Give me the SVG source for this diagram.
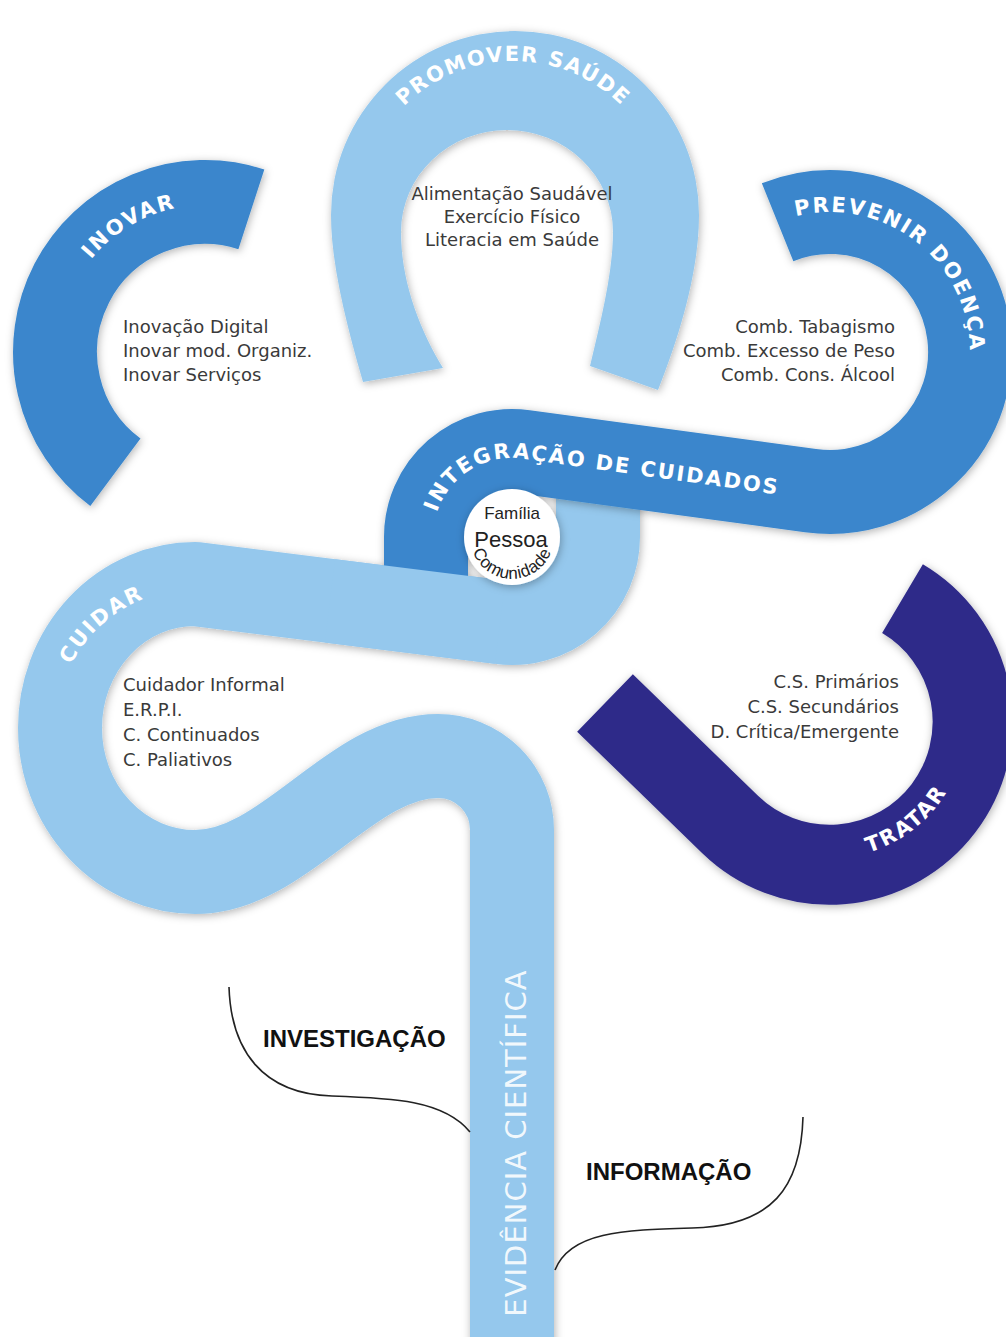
<svg xmlns="http://www.w3.org/2000/svg" width="1006" height="1337" viewBox="0 0 1006 1337">
<defs>
<style>
.band{fill:none;stroke-linecap:butt;stroke-linejoin:round;stroke-width:84}
.light{stroke:#95c8ed}
.mid{stroke:#3a86cc}
.indigo{stroke:#2f2b89}
.lbl{font-family:"DejaVu Sans",sans-serif;font-weight:bold;font-size:21px;letter-spacing:2px;fill:#fff}
.list{font-family:"DejaVu Sans",sans-serif;font-size:18px;fill:#3a3a3a}
.key{font-family:"Liberation Sans",Arial,sans-serif;font-weight:bold;font-size:24px;fill:#111}
.core{font-family:"Liberation Sans",Arial,sans-serif;fill:#222}
.conn{fill:none;stroke:#222;stroke-width:1.6}
</style>
<filter id="ds" filterUnits="userSpaceOnUse" x="0" y="0" width="1006" height="1337">
<feDropShadow dx="1" dy="2" stdDeviation="4" flood-color="#000" flood-opacity="0.3"/>
</filter>
<path id="tp-promover" d="M 359 215 A 154 154 0 0 1 667 215"/>
<path id="tp-inovar" d="M 67.8 404.7 A 147 147 0 0 1 315.9 255.6"/>
<path id="tp-prevenir" d="M 736.3 248 A 140 140 0 0 1 953.6 417.7"/>
<path id="tp-integracao" d="M 436.9 512.6 A 79 79 0 0 1 523 458.8 L 820 500.5"/>
<path id="tp-cuidar" d="M 77.1 801.7 A 139 139 0 0 1 280.6 618.5"/>
<path id="tp-tratar" d="M 801.7 855 A 136 136 0 0 0 965.9 726.7"/>
<path id="tp-comunidade" d="M 470.6 529.7 A 42 42 0 1 0 553.4 529.7"/>
</defs>
<rect width="1006" height="1337" fill="#fff"/>

<g id="cuidar-evidencia-band">
<path class="band light" filter="url(#ds)" d="M 512 1345 L 512 830 A 74 74 0 0 0 438 756 C 350 756 285 872 195 872 A 135 144 0 0 1 195 584 L 500 622.2 A 86 86 0 0 0 598 537 L 598 490"/>
</g>

<g id="promover">
<path fill="#95c8ed" filter="url(#ds)" d="M 363 382 C 345 320 331 262 331 215 A 184 184 0 0 1 699 215 C 699 268 682 330 658 390 L 590 366 C 601 320 613 272 613 232 A 106 102 0 0 0 401 232 C 401 282 420 330 443 368 Z"/>
<text class="lbl" style="letter-spacing:1.5px"><textPath href="#tp-promover" startOffset="50%" text-anchor="middle">PROMOVER SAÚDE</textPath></text>
<text class="list" text-anchor="middle" x="512" y="200">Alimentação Saudável</text>
<text class="list" text-anchor="middle" x="512" y="223">Exercício Físico</text>
<text class="list" text-anchor="middle" x="512" y="246">Literacia em Saúde</text>
</g>

<g id="inovar">
<path class="band mid" filter="url(#ds)" d="M 251.35 209.35 A 150 150 0 0 0 115.4 472.3"/>
<text class="lbl"><textPath href="#tp-inovar" startOffset="50%" text-anchor="middle">INOVAR</textPath></text>
<text class="list" x="123" y="333">Inovação Digital</text>
<text class="list" x="123" y="357">Inovar mod. Organiz.</text>
<text class="list" x="123" y="381">Inovar Serviços</text>
</g>

<g id="integracao-prevenir">
<path class="band mid" filter="url(#ds)" d="M 426 580 L 426 537 A 86 86 0 0 1 524 451.8 L 810.5 490.6 A 140 140 0 1 0 777.6 222.2"/>
<path class="band light" d="M 330 600.9 L 500 622.2"/>
<text class="lbl"><textPath href="#tp-integracao">INTEGRAÇÃO DE CUIDADOS</textPath></text>
<text class="lbl"><textPath href="#tp-prevenir" startOffset="50%" text-anchor="middle">PREVENIR DOENÇA</textPath></text>
<text class="list" text-anchor="end" x="895" y="333">Comb. Tabagismo</text>
<text class="list" text-anchor="end" x="895" y="357">Comb. Excesso de Peso</text>
<text class="list" text-anchor="end" x="895" y="381">Comb. Cons. Álcool</text>
</g>

<g id="cuidar">
<text class="lbl"><textPath href="#tp-cuidar" startOffset="50%" text-anchor="middle">CUIDAR</textPath></text>
<text class="list" x="123" y="691">Cuidador Informal</text>
<text class="list" x="123" y="716">E.R.P.I.</text>
<text class="list" x="123" y="741">C. Continuados</text>
<text class="list" x="123" y="766">C. Paliativos</text>
</g>

<g id="tratar">
<path class="band indigo" style="stroke-width:80" filter="url(#ds)" d="M 605 703 L 730.4 824.7 A 143 143 0 1 0 902.5 598.7"/>
<text class="lbl"><textPath href="#tp-tratar" startOffset="50%" text-anchor="middle">TRATAR</textPath></text>
<text class="list" text-anchor="end" x="899" y="688">C.S. Primários</text>
<text class="list" text-anchor="end" x="899" y="713">C.S. Secundários</text>
<text class="list" text-anchor="end" x="899" y="738">D. Crítica/Emergente</text>
</g>

<g id="centro">
<circle cx="512" cy="537" r="48" fill="#fff" filter="url(#ds)"/>
<text class="core" x="512" y="519" font-size="17" text-anchor="middle">Família</text>
<text class="core" x="511" y="547" font-size="22" text-anchor="middle">Pessoa</text>
<text class="core" font-size="17" letter-spacing="0.5"><textPath href="#tp-comunidade" startOffset="50%" text-anchor="middle">Comunidade</textPath></text>
</g>

<g id="evidencia">
<text transform="translate(526 1143) rotate(-90)" text-anchor="middle" font-family="DejaVu Sans, sans-serif" font-size="29" letter-spacing="1" fill="#fff" fill-opacity="0.9">EVIDÊNCIA CIENTÍFICA</text>
</g>

<g id="investigacao">
<text class="key" x="263" y="1047">INVESTIGAÇÃO</text>
</g>

<g id="informacao">
<text class="key" x="586" y="1180">INFORMAÇÃO</text>
</g>

<g id="connectors">
<path class="conn" d="M 229 987 C 231 1050 262 1094 332 1096 C 392 1098 444 1100 470 1132"/>
<path class="conn" d="M 803 1117 C 801 1188 772 1226 692 1228 C 622 1230 570 1232 555 1270"/>
</g>
</svg>
